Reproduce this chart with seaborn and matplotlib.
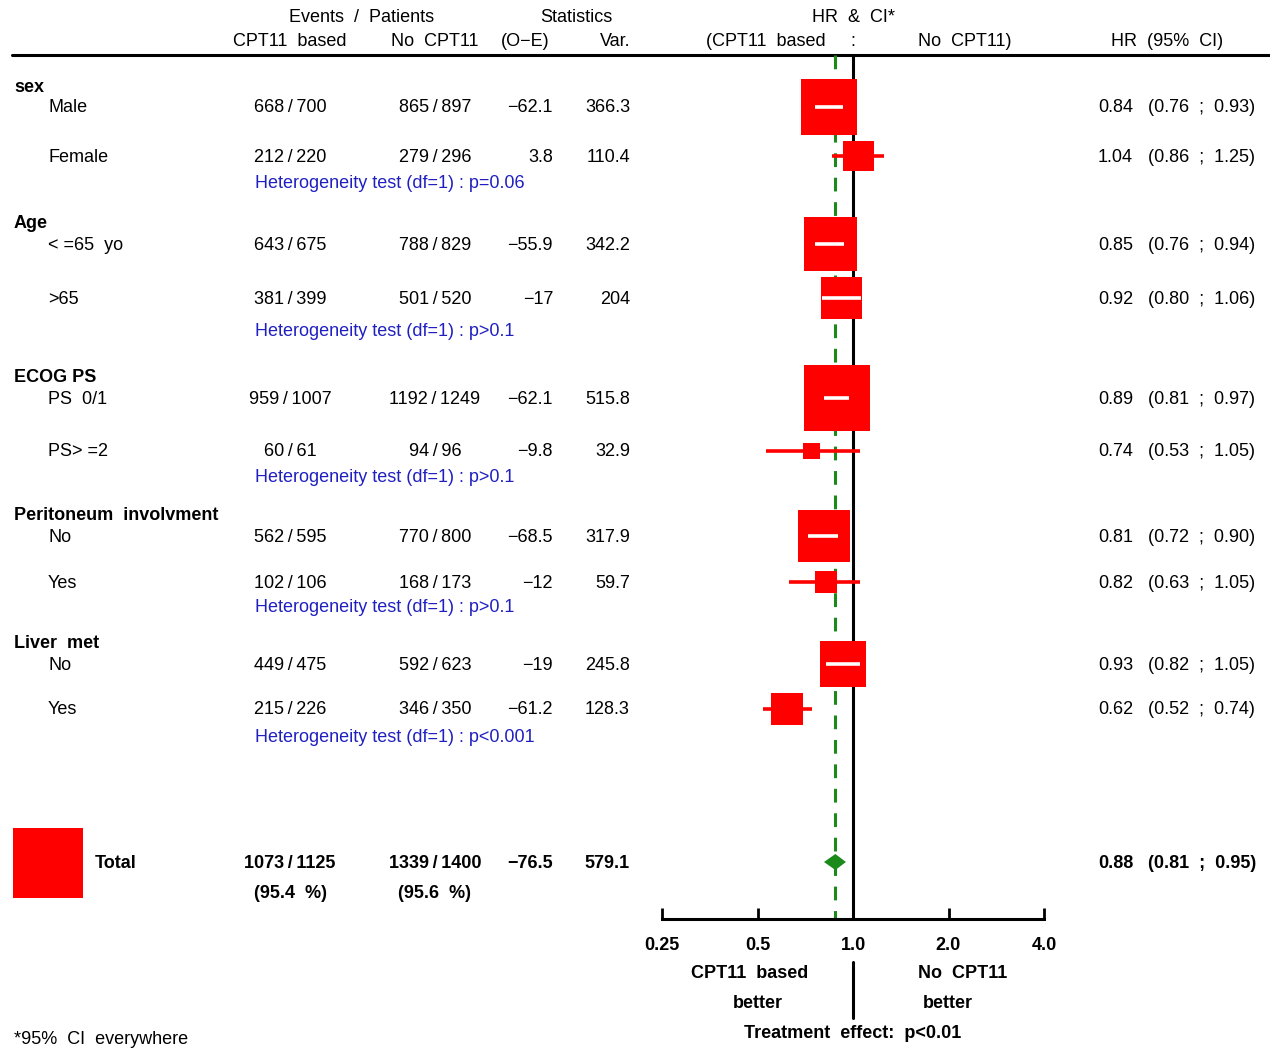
"""
Forest plot: CPT11 based vs No CPT11, subgroup hazard ratios.
"""
import numpy as np
import pandas as pd
import matplotlib
matplotlib.use("Agg")
import matplotlib.pyplot as plt
import seaborn as sns

# ───────────────────────────────────────────────────────────────
# Datos
# ───────────────────────────────────────────────────────────────
groups     = ["sex", "Age", "ECOG PS", "Peritoneum  involvment", "Liver  met"]
sub_labels = ["Male", "Female", "< =65  yo", ">65", "PS  0/1", "PS> =2",
              "No", "Yes", "No", "Yes"]
ev_cpt = [668, 212, 643, 381, 959, 60, 562, 102, 449, 215]
n_cpt  = [700, 220, 675, 399, 1007, 61, 595, 106, 475, 226]
ev_no  = [865, 279, 788, 501, 1192, 94, 770, 168, 592, 346]
n_no   = [897, 296, 829, 520, 1249, 96, 800, 173, 623, 350]
o_e    = [-62.1, 3.8, -55.9, -17, -62.1, -9.8, -68.5, -12, -19, -61.2]
var    = [366.3, 110.4, 342.2, 204, 515.8, 32.9, 317.9, 59.7, 245.8, 128.3]
hr     = [0.84, 1.04, 0.85, 0.92, 0.89, 0.74, 0.81, 0.82, 0.93, 0.62]
ci_lo  = [0.76, 0.86, 0.76, 0.80, 0.81, 0.53, 0.72, 0.63, 0.82, 0.52]
ci_hi  = [0.93, 1.25, 0.94, 1.06, 0.97, 1.05, 0.90, 1.05, 1.05, 0.74]
het_p  = ["p=0.06", "p>0.1", "p>0.1", "p>0.1", "p<0.001"]

tot_ev_cpt, tot_n_cpt, tot_pct_cpt = 1073, 1125, 95.4
tot_ev_no,  tot_n_no,  tot_pct_no  = 1339, 1400, 95.6
tot_oe, tot_var = -76.5, 579.1
tot_hr, tot_lo, tot_hi = 0.88, 0.81, 0.95

xticks      = [0.25, 0.5, 1.0, 2.0, 4.0]
xticklabels = ["0.25", "0.5", "1.0", "2.0", "4.0"]

# ───────────────────────────────────────────────────────────────
# Layout (pixel rows)
# ───────────────────────────────────────────────────────────────
W, H = 1270, 1048
group_y = [86, 222, 376, 515, 643]
row_y   = [107, 156, 244, 298, 398, 451, 536, 582, 664, 709]
het_y   = [183, 330, 476, 607, 737]
total_y = 862
axis_y  = 919
PX_K    = 4.3      # marker area (pt^2) per unit of variance

RED   = "#ff0000"
GREEN = "#1b8a1b"
BLUE  = "#2020c0"
FS    = 13

sns.set_theme(style="white")
plt.rcParams["font.family"] = ["Liberation Sans", "DejaVu Sans"]
plt.rcParams["text.color"] = "black"

fig = plt.figure(figsize=(W / 100, H / 100), dpi=100)
ax_t = fig.add_axes([0, 0, 1, 1])
ax_t.set_xlim(0, W); ax_t.set_ylim(H, 0); ax_t.axis("off")

ax = fig.add_axes([662 / W, 0, 382 / W, 1])
ax.set_facecolor("none")
ax.set_xscale("log", base=2)
ax.set_xlim(0.25, 4); ax.set_ylim(H, 0)

def minus(v):
    s = f"{abs(v):g}"
    return ("\u2212" + s) if v < 0 else s

def T(x, y, s, ha="left", bold=False, color="black", size=FS):
    ax_t.text(x, y + 1, s, ha=ha, va="center", fontsize=size, color=color,
              fontweight="bold" if bold else "normal")

# ── Encabezados ────────────────────────────────────────────────
T(362, 17, "Events  /  Patients", ha="center")
T(576, 17, "Statistics", ha="center")
T(290, 41, "CPT11  based", ha="center")
T(435, 41, "No  CPT11", ha="center")
T(525, 41, "(O\u2212E)", ha="center")
T(630, 41, "Var.", ha="right")
T(853, 17, "HR  &  CI*", ha="center")
T(826, 41, "(CPT11  based", ha="right")
T(853, 41, ":", ha="center")
T(918, 41, "No  CPT11)", ha="left")
T(1167, 41, "HR  (95%  CI)", ha="center")
ax_t.plot([12, W], [55, 55], color="black", lw=2.2)

# ── Filas de subgrupos ─────────────────────────────────────────
for g, y in zip(groups, group_y):
    T(14, y, g, bold=True)
for i, y in enumerate(row_y):
    T(48, y, sub_labels[i])
    T(290, y, f"{ev_cpt[i]}\u2009/\u2009{n_cpt[i]}", ha="center")
    T(435, y, f"{ev_no[i]}\u2009/\u2009{n_no[i]}", ha="center")
    T(553, y, minus(o_e[i]), ha="right")
    T(630, y, f"{var[i]:g}", ha="right")
    T(1098, y, f"{hr[i]:.2f}")
    T(1148, y, f"({ci_lo[i]:.2f}  ;  {ci_hi[i]:.2f})")
for p, y in zip(het_p, het_y):
    T(255, y, f"Heterogeneity test (df=1) : {p}", color=BLUE)

# ── Total ──────────────────────────────────────────────────────
T(95, total_y, "Total", bold=True)
T(290, total_y, f"{tot_ev_cpt}\u2009/\u2009{tot_n_cpt}", ha="center", bold=True)
T(435, total_y, f"{tot_ev_no}\u2009/\u2009{tot_n_no}", ha="center", bold=True)
T(553, total_y, minus(tot_oe), ha="right", bold=True)
T(630, total_y, f"{tot_var:g}", ha="right", bold=True)
T(290, 892, f"({tot_pct_cpt}  %)", ha="center", bold=True)
T(435, 892, f"({tot_pct_no}  %)", ha="center", bold=True)
T(1098, total_y, f"{tot_hr:.2f}", bold=True)
T(1148, total_y, f"({tot_lo:.2f}  ;  {tot_hi:.2f})", bold=True)
ax_t.scatter([48], [863], marker="s", s=PX_K * tot_var, color=RED, linewidths=0)

# ── Panel del forest plot ──────────────────────────────────────
ax.plot([1, 1], [55, axis_y], color="black", lw=2.2, zorder=1)
ax.plot([tot_hr, tot_hr], [55, axis_y], color=GREEN, lw=2.2,
        ls=(0, (4.5, 3.5)), zorder=1)

df = pd.DataFrame({"hr": hr, "lo": ci_lo, "hi": ci_hi, "var": var, "y": row_y})
for r in df.itertuples():
    ax.plot([r.lo, r.hi], [r.y, r.y], color=RED, lw=2.6, zorder=2,
            solid_capstyle="butt")
sns.scatterplot(data=df, x="hr", y="y", size="var",
                sizes=(PX_K * min(var), PX_K * max(var)),
                size_norm=(min(var), max(var)),
                marker="s", color=RED, linewidth=0, legend=False,
                ax=ax, zorder=3)
# IC en blanco cuando queda dentro del cuadrado
for r in df.itertuples():
    half_px = np.sqrt(PX_K * r.var) / 0.72 / 2
    span = 2 ** (half_px / (382 / 4))
    if r.lo >= r.hr / span and r.hi <= r.hr * span:
        ax.plot([r.lo, r.hi], [r.y, r.y], color="white", lw=2.6, zorder=4,
                solid_capstyle="butt")

# Diamante total
ax.fill([tot_lo, tot_hr, tot_hi, tot_hr],
        [total_y, total_y - 8, total_y, total_y + 8],
        color=GREEN, lw=0, zorder=3)

# Ejes
for s in ["top", "left", "right"]:
    ax.spines[s].set_visible(False)
ax.spines["bottom"].set_position(("data", axis_y))
ax.spines["bottom"].set_linewidth(2.2)
ax.spines["bottom"].set_color("black")
ax.set_xticks(xticks)
ax.set_xticklabels(xticklabels, fontsize=FS, fontweight="bold")
ax.xaxis.set_minor_locator(matplotlib.ticker.NullLocator())
ax.tick_params(axis="x", direction="in", length=8, width=2, pad=13,
               bottom=True, colors="black")
ax.set_yticks([])
ax.set_xlabel(""); ax.set_ylabel("")

# Leyendas inferiores
ax.plot([1, 1], [962, 1018], color="black", lw=2.2, clip_on=False)
T(750, 973, "CPT11  based", ha="center", bold=True)
T(758, 1003, "better", ha="center", bold=True)
T(963, 973, "No  CPT11", ha="center", bold=True)
T(948, 1003, "better", ha="center", bold=True)
T(853, 1033, "Treatment  effect:  p<0.01", ha="center", bold=True)
T(14, 1039, "*95%  CI  everywhere")

fig.savefig("out.png", dpi=100, facecolor="white")
